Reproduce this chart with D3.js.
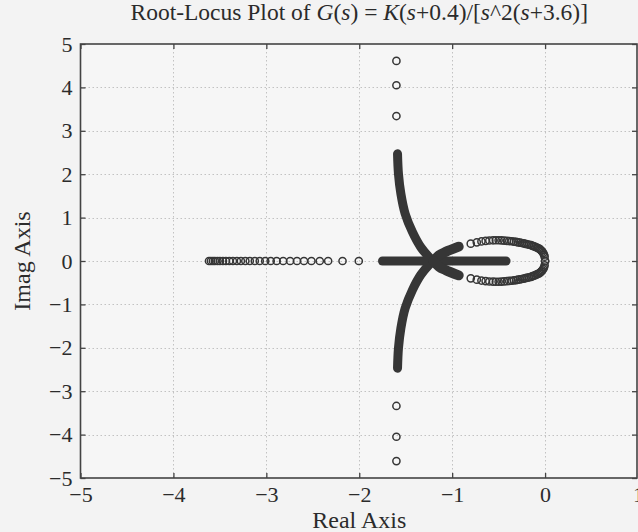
<!DOCTYPE html>
<html><head><meta charset="utf-8">
<script src="https://cdn.jsdelivr.net/npm/d3@7"></script>
<style>
html,body{margin:0;padding:0;background:#f3f3f3;}
svg{display:block;}
text{font-family:"Liberation Serif","Times New Roman",serif;fill:#2b2b2b;}
</style></head><body>
<svg id="chart" width="638" height="532"></svg>
<script>
// ---------- data ----------
const xTicks = [-5, -4, -3, -2, -1, 0, 1];
const yTicks = [-5, -4, -3, -2, -1, 0, 1, 2, 3, 4, 5];
const xLabel = "Real Axis";
const yLabel = "Imag Axis";

// sparse root markers on the real axis (pole at -3.6 moving right)
const realAxisRoots = [-3.617, -3.596, -3.574, -3.553, -3.526, -3.499, -3.467, -3.435,
  -3.398, -3.360, -3.317, -3.274, -3.226, -3.178, -3.124, -3.071, -3.012, -2.953,
  -2.889, -2.819, -2.744, -2.670, -2.595, -2.515, -2.425, -2.335, -2.180, -2.005];

// sparse markers on the asymptote
const asymptoteRoots = [[-1.6, 3.34], [-1.6, 4.05], [-1.6, 4.61],
  [-1.6, -3.34], [-1.6, -4.05], [-1.6, -4.61]];

// markers of the pair leaving the double pole at the origin
const upperArcRoots = [[0, 0], [-0.005, 0.10], [-0.012, 0.15], [-0.02, 0.185], [-0.03, 0.215],
  [-0.04, 0.24], [-0.05, 0.26], [-0.06, 0.28], [-0.075, 0.295], [-0.09, 0.31],
  [-0.105, 0.325], [-0.12, 0.34], [-0.135, 0.35], [-0.15, 0.365], [-0.17, 0.375],
  [-0.19, 0.385], [-0.21, 0.395], [-0.23, 0.405], [-0.25, 0.415], [-0.27, 0.425],
  [-0.29, 0.43], [-0.31, 0.44], [-0.335, 0.445], [-0.36, 0.455], [-0.385, 0.46],
  [-0.41, 0.465], [-0.44, 0.47], [-0.47, 0.475], [-0.50, 0.478], [-0.53, 0.478],
  [-0.56, 0.477], [-0.60, 0.472], [-0.64, 0.462], [-0.685, 0.45], [-0.735, 0.43], [-0.80, 0.40]];
const lowerArcRoots = [[0, 0], [-0.005, -0.10], [-0.012, -0.15], [-0.02, -0.185], [-0.03, -0.215],
  [-0.04, -0.24], [-0.05, -0.26], [-0.06, -0.28], [-0.075, -0.295], [-0.09, -0.31],
  [-0.105, -0.325], [-0.12, -0.34], [-0.135, -0.35], [-0.15, -0.365], [-0.17, -0.375],
  [-0.19, -0.385], [-0.21, -0.395], [-0.23, -0.405], [-0.25, -0.415], [-0.27, -0.425],
  [-0.29, -0.43], [-0.31, -0.44], [-0.335, -0.445], [-0.36, -0.455], [-0.385, -0.46],
  [-0.41, -0.465], [-0.44, -0.47], [-0.47, -0.475], [-0.50, -0.478], [-0.53, -0.478],
  [-0.56, -0.477], [-0.60, -0.472], [-0.64, -0.462], [-0.685, -0.45], [-0.735, -0.43], [-0.80, -0.40]];

// densely sampled stretches (markers overlap into solid bands)
const upperBranch = [[-1.205, 0], [-1.249, 0.09], [-1.338, 0.32], [-1.428, 0.67],
  [-1.506, 1.09], [-1.552, 1.55], [-1.578, 2.01], [-1.588, 2.47]];
const lowerBranch = [[-1.205, 0], [-1.249, -0.09], [-1.338, -0.32], [-1.428, -0.67],
  [-1.506, -1.09], [-1.552, -1.55], [-1.578, -2.01], [-1.588, -2.47]];
const realBand = [[-1.75, 0], [-0.42, 0]];
const upperArm = [[-1.2, 0], [-1.141, 0.13], [-1.07, 0.21], [-0.93, 0.33]];
const lowerArm = [[-1.2, 0], [-1.141, -0.13], [-1.07, -0.21], [-0.93, -0.33]];

// ---------- drawing ----------
const svg = d3.select("#chart");
const W = 638, H = 532;
const x = d3.scaleLinear().domain([-5, 1]).range([80.5, 638]);
const y = d3.scaleLinear().domain([-5, 5]).range([478, 44]);
const ink = "#363636";

svg.append("rect").attr("width", W).attr("height", H).attr("fill", "#f3f3f3");
svg.append("rect").attr("x", x(-5)).attr("y", y(5))
  .attr("width", x(1) - x(-5)).attr("height", y(-5) - y(5)).attr("fill", "#f6f6f6");

// grid
const grid = svg.append("g").attr("stroke", "#c2c2c2").attr("stroke-width", 1)
  .attr("stroke-dasharray", "1.5,2.5");
grid.selectAll("line.gx").data(xTicks.slice(1, -1)).join("line")
  .attr("x1", d => Math.round(x(d)) + 0.5).attr("x2", d => Math.round(x(d)) + 0.5)
  .attr("y1", y(5)).attr("y2", y(-5));
grid.selectAll("line.gy").data(yTicks.slice(1, -1)).join("line")
  .attr("y1", d => Math.round(y(d)) + 0.5).attr("y2", d => Math.round(y(d)) + 0.5)
  .attr("x1", x(-5)).attr("x2", x(1));

// dense bands
const line = d3.line().x(d => x(d[0])).y(d => y(d[1])).curve(d3.curveCatmullRom);
const bands = svg.append("g").attr("fill", "none").attr("stroke", ink)
  .attr("stroke-linecap", "round").attr("stroke-linejoin", "round");
[upperBranch, lowerBranch, realBand].forEach(p =>
  bands.append("path").attr("d", line(p)).attr("stroke-width", 9));
[upperArm, lowerArm].forEach(p =>
  bands.append("path").attr("d", line(p)).attr("stroke-width", 10));

// circle markers
const marks = svg.append("g").attr("fill", "none").attr("stroke", ink).attr("stroke-width", 1.5);
const allPts = realAxisRoots.map(r => [r, 0]).concat(asymptoteRoots, upperArcRoots, lowerArcRoots);
marks.selectAll("circle").data(allPts).join("circle")
  .attr("cx", d => x(d[0])).attr("cy", d => y(d[1])).attr("r", 3.6);

// axes
const fmt = d => d3.format("d")(d);
const axB = d3.axisBottom(x).tickValues(xTicks).tickSizeInner(-5).tickSizeOuter(0).tickPadding(8).tickFormat(fmt);
const axL = d3.axisLeft(y).tickValues(yTicks).tickSizeInner(-5).tickSizeOuter(0).tickPadding(8).tickFormat(fmt);
const axT = d3.axisTop(x).tickValues(xTicks).tickSizeInner(-5).tickSizeOuter(0).tickFormat("");
const axR = d3.axisRight(y).tickValues(yTicks).tickSizeInner(-5).tickSizeOuter(0).tickFormat("");
function styleAxis(g) {
  g.select(".domain").remove();
  g.selectAll(".tick line").attr("stroke", "#444").attr("stroke-width", 1.3);
  g.selectAll(".tick text").attr("font-family", "Liberation Serif").attr("font-size", 22).attr("fill", "#2b2b2b");
}
svg.append("g").attr("transform", `translate(0,${y(-5)})`).call(axB).call(styleAxis);
svg.append("g").attr("transform", `translate(${x(-5)},0)`).call(axL).call(styleAxis);
svg.append("g").attr("transform", `translate(0,${y(5)})`).call(axT).call(styleAxis);
svg.append("g").attr("transform", `translate(${x(1) - 1},0)`).call(axR).call(styleAxis);

svg.append("rect").attr("x", x(-5)).attr("y", y(5))
  .attr("width", x(1) - x(-5) - 1).attr("height", y(-5) - y(5))
  .attr("fill", "none").attr("stroke", "#444").attr("stroke-width", 1.6);

// labels
svg.append("text").attr("x", (x(-5) + x(1)) / 2).attr("y", 528)
  .attr("text-anchor", "middle").attr("font-size", 24).text(xLabel);
svg.append("text").attr("transform", `translate(30,${y(0)}) rotate(-90)`)
  .attr("text-anchor", "middle").attr("font-size", 24).text(yLabel);

const title = svg.append("text").attr("x", (x(-5) + x(1)) / 2).attr("y", 20)
  .attr("text-anchor", "middle").attr("font-size", 23.5);
const parts = [["Root-Locus Plot of ", false], ["G", true], ["(", false], ["s", true],
  [") = ", false], ["K", true], ["(", false], ["s", true], ["+0.4)/[", false], ["s", true],
  ["^2(", false], ["s", true], ["+3.6)]", false]];
parts.forEach(([t, it]) => title.append("tspan").attr("font-style", it ? "italic" : "normal").text(t));
</script></body></html>
